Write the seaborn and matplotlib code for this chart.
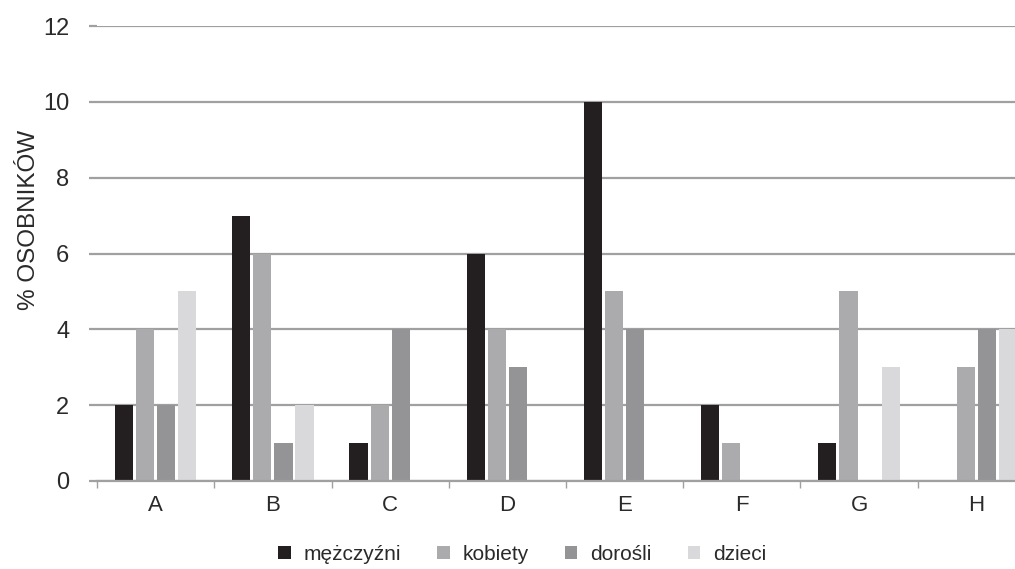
import numpy as np
import pandas as pd
import matplotlib
matplotlib.use("Agg")
import matplotlib.pyplot as plt
import seaborn as sns

sites = ["A", "B", "C", "D", "E", "F", "G", "H"]
groups = ["mężczyźni", "kobiety", "dorośli", "dzieci"]
men = [2, 7, 1, 6, 10, 2, 1, 0]
women = [4, 6, 2, 4, 5, 1, 5, 3]
adults = [2, 1, 4, 3, 4, 0, 0, 4]
children = [5, 2, 0, 0, 0, 0, 3, 4]
colors = ["#231f20", "#ababad", "#949497", "#d9d9db"]

df = pd.DataFrame({
    "site": sites * 4,
    "group": np.repeat(groups, len(sites)),
    "value": men + women + adults + children,
})

sns.set_style("white")
plt.rcParams["font.family"] = ["Liberation Sans Narrow", "Liberation Sans", "DejaVu Sans"]

fig = plt.figure(figsize=(10.15, 5.69), dpi=100)
ax = fig.add_axes([0.0956, 0.1547, 0.9044, 0.7993])

sns.barplot(data=df, x="site", y="value", hue="group", palette=colors,
            width=0.72, gap=0.14, saturation=1, linewidth=0, ax=ax, legend=True)

ax.set_ylim(0, 12)
ax.set_yticks(range(0, 13, 2))
ax.set_xticks(np.arange(-0.5, 8, 1), minor=True)
ax.set_xlim(-0.5, 7.33)
ax.yaxis.grid(True, color="#a0a0a0", linewidth=1.6)
ax.set_axisbelow(True)
for s in ["top", "right", "left"]:
    ax.spines[s].set_visible(False)
ax.spines["bottom"].set_color("#a0a0a0")
ax.spines["bottom"].set_linewidth(1.6)
ax.tick_params(axis="y", length=6, width=1.6, color="#a0a0a0", labelsize=17, pad=14,
               left=True, labelcolor="#2a2a2a")
ax.tick_params(axis="x", length=0, labelsize=16, pad=10, labelcolor="#2a2a2a")
ax.tick_params(axis="x", which="minor", length=5, width=1, color="#a0a0a0", bottom=True)
ax.set_xlabel("")
ax.set_ylabel("% OSOBNIKÓW", fontsize=17.5, color="#2a2a2a")
ax.yaxis.set_label_coords(-0.062, 0.574)

ax.legend(loc="upper center", bbox_to_anchor=(0.463, -0.1), ncol=4, frameon=False,
          fontsize=15, handlelength=0.6, handleheight=0.6, handletextpad=0.6,
          columnspacing=1.75, labelcolor="#2a2a2a")

fig.savefig("out.png", dpi=100)
